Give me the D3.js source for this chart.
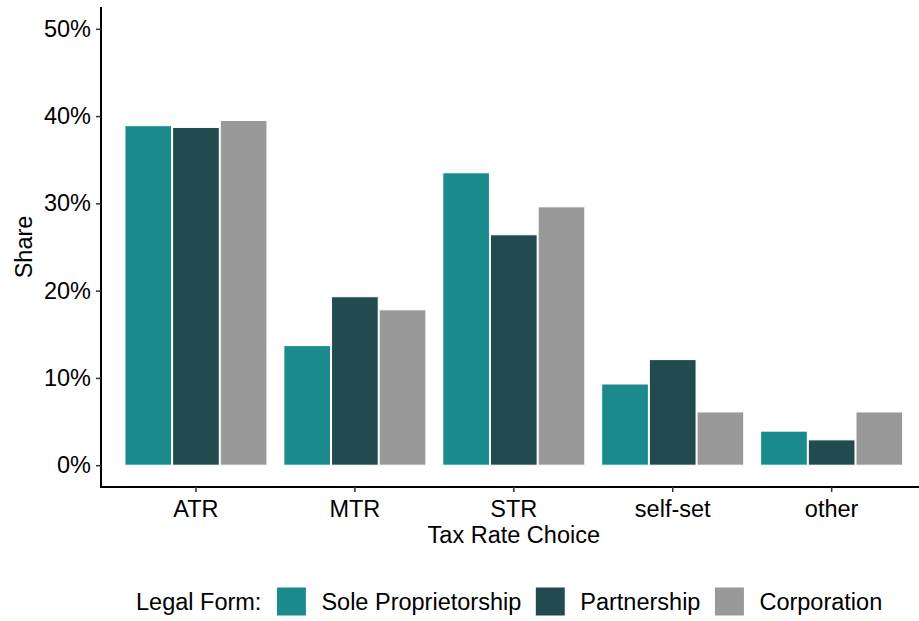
<!DOCTYPE html>
<html><head><meta charset="utf-8">
<script src="https://cdn.jsdelivr.net/npm/d3@7"></script>
<style>
html,body{margin:0;padding:0;background:#fff;}
svg{display:block;font-family:"Liberation Sans",Arial,sans-serif;}
</style></head>
<body>
<svg id="c" width="919" height="621"></svg>
<script>
const categories = ["ATR","MTR","STR","self-set","other"];
const seriesNames = ["Sole Proprietorship","Partnership","Corporation"];
const soleProp = [0.389,0.137,0.335,0.093,0.039];
const partnership = [0.387,0.193,0.264,0.121,0.029];
const corporation = [0.395,0.178,0.296,0.061,0.061];
const yTicks = [0,0.1,0.2,0.3,0.4,0.5];
const colors = ["#1b8a8c","#224b4f","#999999"];

(function(){
const values = [soleProp, partnership, corporation];
const data = categories.map((c,i)=>({cat:c, vals: seriesNames.map((s,j)=>({series:s, j, v: values[j][i]}))}));

const svg = d3.select("#c");
const mLeft = 101, mRight = 927, mTop = 7, mBottom = 487;
const x0 = d3.scaleBand().domain(categories).range([100.6, mRight]).paddingInner(0.1).paddingOuter(0.15);
const x1 = d3.scaleBand().domain(seriesNames).range([0, x0.bandwidth()]).padding(0);
const y = d3.scaleLinear().domain([-0.025, 0.525]).range([mBottom, mTop]);
const fs = 23.5;

// bars
const g = svg.append("g");
g.selectAll("g.grp").data(data).join("g").attr("class","grp")
  .attr("transform", d=>`translate(${x0(d.cat)},0)`)
  .selectAll("rect").data(d=>d.vals).join("rect")
  .attr("x", d=>x1(d.series)+0.5)
  .attr("width", x1.bandwidth()-1)
  .attr("y", d=>y(d.v))
  .attr("height", d=>y(0)-y(d.v))
  .attr("fill", d=>colors[d.j])
  .attr("stroke","#ffffff").attr("stroke-width",1);

// y axis
const yAxis = svg.append("g").attr("transform",`translate(${mLeft},0)`)
  .call(d3.axisLeft(y).tickValues(yTicks).tickFormat(d3.format(".0%")).tickSize(5).tickPadding(5));
yAxis.select(".domain").attr("d",`M0,${mTop}V${mBottom}`).attr("stroke","#000").attr("stroke-width",2);
yAxis.selectAll(".tick line").attr("stroke","#333").attr("stroke-width",1.5);
yAxis.selectAll(".tick text").attr("font-size",fs).attr("fill","#000").attr("font-family","Liberation Sans, Arial, sans-serif");

// x axis
const xAxis = svg.append("g").attr("transform",`translate(0,${mBottom})`)
  .call(d3.axisBottom(x0).tickSize(5).tickPadding(8));
xAxis.select(".domain").attr("d",`M${mLeft-1},0H919`).attr("stroke","#000").attr("stroke-width",2);
xAxis.selectAll(".tick line").attr("stroke","#333").attr("stroke-width",1.5);
xAxis.selectAll(".tick text").attr("font-size",fs).attr("fill","#000").attr("font-family","Liberation Sans, Arial, sans-serif");

// axis titles
svg.append("text").attr("x",(100.6+mRight)/2).attr("y",543).attr("text-anchor","middle")
  .attr("font-size",fs).attr("fill","#000").text("Tax Rate Choice");
svg.append("text").attr("transform",`translate(32,${(mTop+mBottom)/2}) rotate(-90)`).attr("text-anchor","middle")
  .attr("font-size",fs).attr("fill","#000").text("Share");

// legend
const leg = svg.append("g");
let lx = 136; const ly = 610, keyY = 587, keyS = 29;
const title = leg.append("text").attr("x",lx).attr("y",ly).attr("font-size",fs).attr("fill","#000").text("Legal Form:");
lx += title.node().getComputedTextLength() + 15;
seriesNames.forEach((s,j)=>{
  leg.append("rect").attr("x",lx).attr("y",keyY).attr("width",keyS+1).attr("height",keyS)
    .attr("fill",colors[j]).attr("stroke","#fff").attr("stroke-width",1);
  lx += keyS + 1 + 15;
  const t = leg.append("text").attr("x",lx).attr("y",ly).attr("font-size",fs).attr("fill","#000").text(s);
  lx += t.node().getComputedTextLength() + 14;
});
})();
</script>
</body></html>
